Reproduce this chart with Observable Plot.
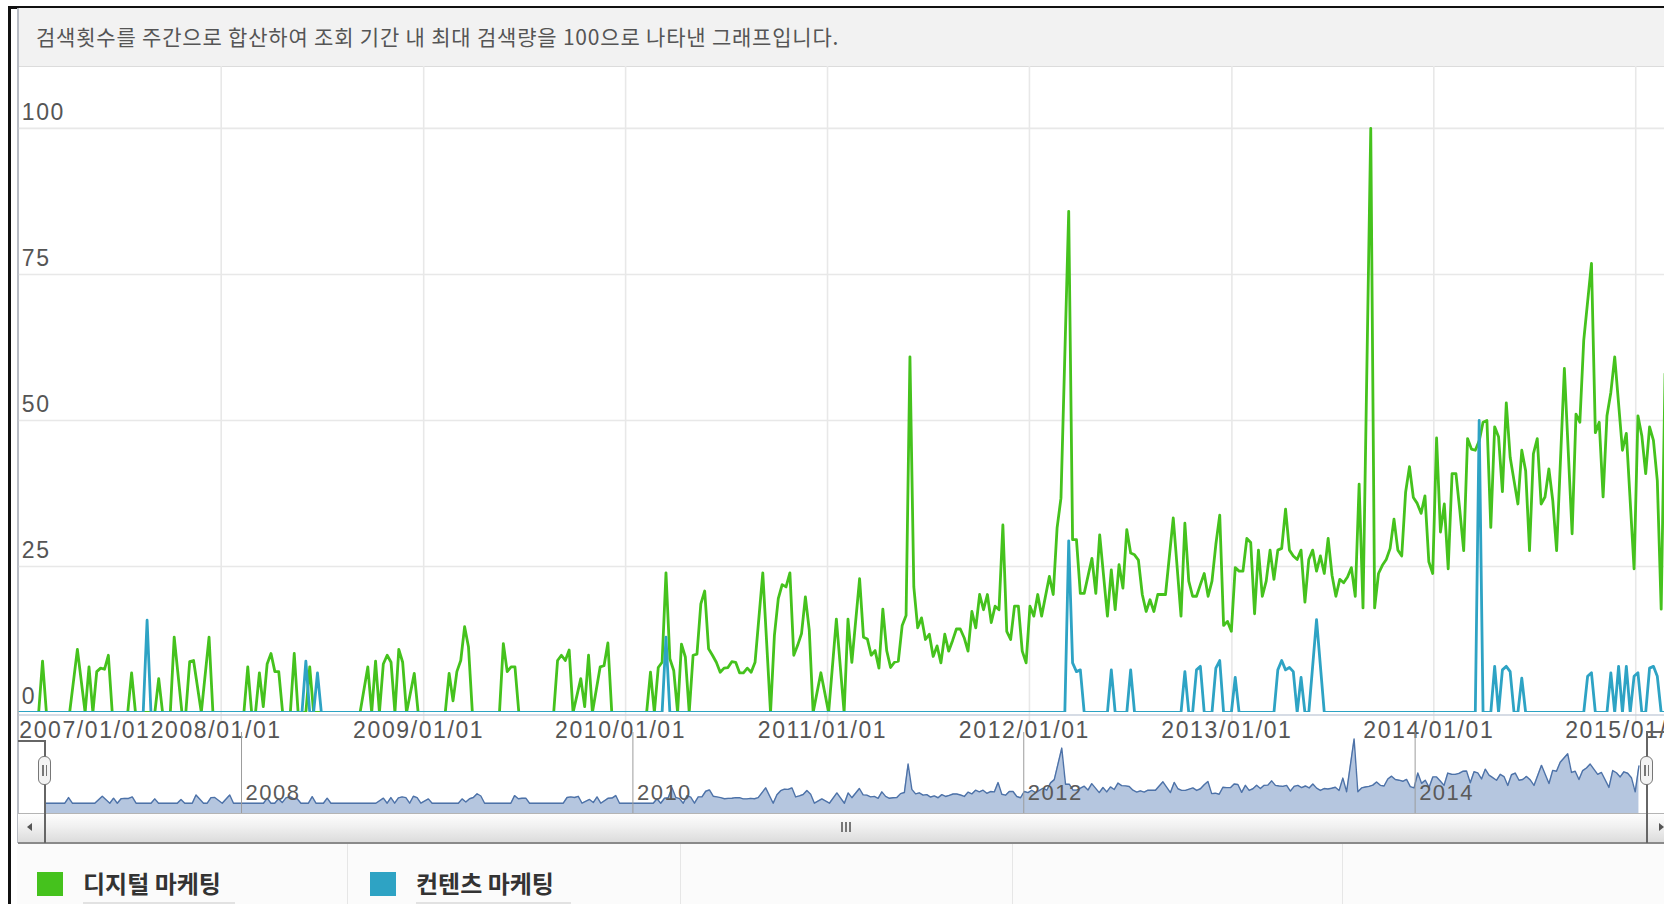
<!DOCTYPE html>
<html><head><meta charset="utf-8">
<script src="https://cdn.jsdelivr.net/npm/d3@7"></script>
<script src="https://cdn.jsdelivr.net/npm/@observablehq/plot@0.6"></script>
<style>
html,body{margin:0;padding:0;width:1664px;height:904px;overflow:hidden;background:#fff;}
.abs{position:absolute;}
#header{left:17px;top:8px;width:1647px;height:59px;background:#f2f2f2;border-bottom:1px solid #dcdcdc;
  font-family:"Noto Sans CJK KR","Noto Sans",sans-serif;font-size:21px;letter-spacing:0.8px;color:#555;line-height:56px;padding-left:19px;box-sizing:border-box;white-space:nowrap;}
#main{left:0;top:66px;}
#nav{left:0;top:730px;}
#scroll{left:18px;top:813px;width:1646px;height:28px;background:linear-gradient(to bottom,#fdfdfd 0%,#f0f0f0 45%,#dcdcdc 100%);border-top:1px solid #b4b4b4;border-bottom:2px solid #8a8a8a;}
#legend{left:17px;top:844px;width:1647px;height:60px;background:#fbfbfb;}
.sep{position:absolute;top:0;width:1px;height:60px;background:#e6e6e6;}
.sw{position:absolute;width:26px;height:24px;top:28px;}
.lt{position:absolute;top:22px;font-family:"Noto Sans CJK KR","Noto Sans",sans-serif;font-weight:bold;font-size:24px;color:#333;line-height:34px;white-space:nowrap;}
.ul{position:absolute;top:58px;height:2px;background:#e2e2e2;}
.handle{position:absolute;width:13px;height:29px;top:756px;border:1.5px solid #777;border-radius:6px;background:#f3f3f3;box-sizing:border-box;}
.handle::before,.handle::after{content:"";position:absolute;top:8px;width:1.5px;height:11px;background:#777;}
.handle::before{left:3px;} .handle::after{left:6.5px;}
svg.plot-svg{background:transparent;}
</style></head><body>
<div class="abs" style="left:8px;top:6px;width:3px;height:898px;background:#111"></div>
<div class="abs" style="left:8px;top:6px;width:1656px;height:2.5px;background:#111"></div>
<div id="header" class="abs"></div>
<div class="abs" style="left:16.5px;top:8px;width:2px;height:835px;background:#b8bcc4"></div>
<div id="main" class="abs"></div>
<div id="nav" class="abs"></div>
<div id="scroll" class="abs"></div>
<div class="abs" style="left:18px;top:814px;width:27px;height:28px;border-right:1px solid #a8a8a8;box-sizing:border-box"></div>
<div class="abs" style="left:27px;top:823px;width:0;height:0;border-top:4px solid transparent;border-bottom:4px solid transparent;border-right:5px solid #555"></div>
<div class="abs" style="left:841px;top:822px;width:1.5px;height:10px;background:#777"></div>
<div class="abs" style="left:845px;top:822px;width:1.5px;height:10px;background:#777"></div>
<div class="abs" style="left:849px;top:822px;width:1.5px;height:10px;background:#777"></div>
<div class="abs" style="left:1659px;top:823px;width:0;height:0;border-top:4px solid transparent;border-bottom:4px solid transparent;border-left:5px solid #555"></div>
<div class="abs" style="left:44px;top:740px;width:1.5px;height:103px;background:#666"></div>
<div class="abs" style="left:18px;top:740px;width:27px;height:1.5px;background:#666"></div>
<div class="abs" style="left:1646px;top:731px;width:1.5px;height:112px;background:#666"></div>
<div class="abs" style="left:1646px;top:731px;width:18px;height:1.5px;background:#666"></div>
<div class="handle" style="left:38px"></div>
<div class="handle" style="left:1640px"></div>
<div id="legend" class="abs"></div>
<script>
// ---- data ----
const headerText = "검색횟수를 주간으로 합산하여 조회 기간 내 최대 검색량을 100으로 나타낸 그래프입니다.";
const seriesNames = ["디지털 마케팅", "컨텐츠 마케팅"];
const seriesColors = ["#45c21d", "#2ea3c4"];
const startDay = "2007-01-01";          // week 0
const mainEndDay = "2015-02-22";        // right edge of the visible window
const navEndDay = "2015-03-11";         // right edge of the navigator
const yTicks = [0, 25, 50, 75, 100];
const xTickYears = [2007, 2008, 2009, 2010, 2011, 2012, 2013, 2014, 2015];
const navTickYears = [2008, 2010, 2012, 2014];
// [week since start, index value]
const digitalMarketing = [
[0,0],[5,0],[6,8.8],[7,0],[13,0],[15,10.8],[17,0],[18,7.8],[19,0],[20,7.0],[21,7.6],[22,7.4],[23,9.8],[24,0],[28,0],[29,6.8],[30,0],[35,0],[36,5.8],[37,0],[39,0],[40,12.9],[42,0],[43,0],[44,8.7],[45,8.9],[47,0],[49,12.9],[50,0],
[58,0],[59,7.8],[60,0],[61,0],[62,6.8],[63,1],[64,8.3],[65,10.1],[66,7.0],[67,7.0],[68,0],[70,0],[71,10.1],[72,0],[74,0],[75,7.8],[76,0],
[88,0],[90,7.8],[91,0],[92,8.8],[93,0],[94,8.3],[95,9.8],[96,8.6],[97,0],[98,10.8],[99,8.6],[100,0],[102,6.7],[103,0],
[110,0],[111,6.7],[112,2],[113,7.0],[114,8.9],[115,14.7],[116,11.2],[117,0],[124,0],[125,11.8],[126,7.0],[127,7.8],[128,7.8],[129,0],
[138,0],[139,8.9],[140,9.8],[141,8.9],[142,10.7],[143,0],[145,5.8],[146,1],[147,9.8],[148,0],[150,7.8],[151,8.0],[152,11.9],[153,0],
[162,0],[163,6.9],[164,0],[165,7.7],[166,8.6],[167,23.9],[168,9.2],[169,7.2],[170,0],[171,11.7],[172,9.5],[173,0],[174,9.8],[175,10.0],[176,18.6],[177,20.8],[178,10.9],[179,9.8],[180,8.6],[181,6.9],[182,7.6],[183,7.7],[184,8.7],[185,8.6],[186,6.8],[187,6.8],[188,7.6],[189,6.9],[190,8.6],[192,23.9],[194,0],[195,13.2],[196,19.5],[197,21.9],[198,21.5],[199,23.9],[200,9.8],[201,11.5],[202,13.5],[203,19.8],[204,14.1],[205,0],[207,6.8],[209,0],[211,16.0],[213,0],[214,16.0],[215,8.6],[217,22.9],[218,12.9],[219,12.6],[220,9.8],[221,10.6],[222,7.6],[223,17.7],[224,10.6],[225,7.7],[226,8.6],[227,8.8],[228,14.9],[229,16.6],[230,60.9],[231,21.5],
[232,14.5],[233,16.2],[234,12.5],[235,13.4],[236,9.6],[237,11.4],[238,8.5],[239,13.4],[240,10.5],[241,12.3],[242,14.3],[243,14.3],[244,12.8],[245,10.5],[246,17.3],[247,14.5],[248,20.2],[249,17.6],[250,20.2],[251,15.4],[252,18.2],[253,17.6],[254,32.1],[255,13.9],[256,12.5],[257,18.2],[258,18.2],[259,10.5],[260,8.5],[261,18.2],[262,16.5],[263,20.2],[264,16.5],[266,23.3],[267,20.2],[268,31.6],[269,36.7],[271,85.8],[272,29.6],[273,29.6],[274,20.4],[275,20.4],[277,26.4],[278,20.4],[279,30.4],[281,16.5],[282,24.4],[283,17.6],[284,25.3],[285,21.3],[286,31.3],[287,27.3],[288,27.0],[289,26.1],[290,20.2],[291,17.3],[292,19.3],[293,17.3],[294,20.2],[296,20.2],[298,33.3],[300,16.5],
[301,32.4],[302,22.5],[303,19.9],[304,19.9],[305,21.9],[306,23.8],[307,19.9],[308,22.5],[309,28.8],[310,33.8],[311,14.9],[312,15.6],[313,13.9],[314,24.8],[315,24.2],[316,24.2],[317,29.8],[318,29.1],[319,16.9],[320,27.8],[321,19.9],[322,22.5],[323,27.8],[324,22.8],[325,27.8],[326,28.1],[327,34.8],[328,27.8],[329,26.8],[330,26.2],[331,27.8],[332,18.9],[333,26.2],[334,27.8],[335,24.2],[336,26.8],[337,23.8],[338,29.8],[339,23.5],[340,19.9],[341,22.8],[342,22.2],[343,23.2],[344,24.8],[345,19.9],[346,39.1],[347,17.9],[349,100],[350,17.9],[351,23.8],[352,25.2],[353,26.2],[354,28.1],[355,33.1],[356,27.8],[357,26.8],[358,37.7],[359,42.1],[360,36.8],[361,35.8],[362,34.1],[363,37.1],[364,25.8],[365,23.8],
[366,47.0],[367,30.9],[368,35.7],[369,24.6],[370,40.9],[371,40.9],[372,34.6],[373,27.7],[374,46.9],[375,45.1],[376,44.9],[377,46.5],[378,49.7],[379,50.0],[380,31.7],[381,48.9],[382,47.2],[383,37.8],[384,53.0],[385,43.7],[386,39.7],[387,35.7],[388,44.9],[389,41.4],[390,27.7],[391,44.3],[392,46.9],[393,35.7],[394,36.9],[395,41.7],[396,36.3],[397,27.7],[399,58.9],[401,30.6],[402,51.1],[403,49.7],[404,63.7],[406,76.9],[407,47.9],[408,49.7],[409,36.9],[410,50.8],[411,54.8],[412,60.9],[414,44.9],[415,47.8],[417,24.6],[418,50.8],[419,47.4],[420,40.9],[421,48.9],[422,46.6],[423,39.7],[424,17.7],[425,58.0]
];
const contentMarketing = [
[0,0],[32,0],[33,15.8],[34,0],[73,0],[74,8.8],[75,0],[76,0],[77,6.8],[78,0],[166,0],[167,12.9],[168,0],
[270,0],[271,29.4],[272,8.5],[273,7.0],[274,7.3],[275,0],[281,0],[282,7.3],[283,0],[286,0],[287,7.3],[288,0],
[300,0],[301,7.0],[302,0],[303,0],[304,7.3],[305,7.9],[306,0],[308,0],[309,7.6],[310,8.9],[311,0],[313,0],[314,6.0],[315,0],
[324,0],[325,7.3],[326,8.9],[327,7.3],[328,7.7],[329,7.0],[330,0],[331,6.0],[332,0],[333,0],[335,15.9],[337,0],
[376,0],[377,50.0],[378,0],[380,0],[381,7.9],[382,0],[383,7.3],[384,7.9],[385,7.0],[386,0],[387,0],[388,5.9],[389,0],
[404,0],[405,6.2],[406,6.8],[407,0],[410,0],[411,6.8],[412,0],[413,7.9],[414,0],[415,7.9],[416,0],[417,6.2],[418,6.8],[419,0],[420,0],[421,7.6],[422,7.9],[423,6.2],[424,0],[425,0]
];

// ---- build ----
const day = s => new Date(s + "T00:00:00Z");
const start = day(startDay);
const weekMs = 7 * 864e5;
const toRows = (arr, name) => arr.map(([w, v]) => ({date: new Date(+start + w * weekMs), value: v, series: name}));
const digitalRows = toRows(digitalMarketing, seriesNames[0]);
const contentRows = toRows(contentMarketing, seriesNames[1]);
const yearDate = y => new Date(Date.UTC(y, 0, 1));
const fmt = d3.utcFormat("%Y/%m/%d");
const axisFont = '"Liberation Sans", Arial, sans-serif';

document.getElementById("header").textContent = headerText;

const main = Plot.plot({
  width: 1664, height: 680,
  marginLeft: 18.8, marginRight: 0, marginTop: 0, marginBottom: 34,
  x: {type: "utc", domain: [start, day(mainEndDay)], axis: null},
  y: {domain: [0, 110.6], axis: null},
  style: {background: "transparent", fontFamily: axisFont, letterSpacing: "1.6px", overflow: "hidden"},
  marks: [
    Plot.ruleY(yTicks.filter(d => d > 0), {stroke: "#e8e8e8", strokeWidth: 1.6}),
    Plot.ruleX(xTickYears.slice(1).map(yearDate), {stroke: "#e8e8e8", strokeWidth: 1.6, insetBottom: -10}),
    Plot.ruleY([0], {stroke: "#c8d1dc", strokeWidth: 1.5, dy: 2.5}),
    Plot.line(digitalRows, {x: "date", y: "value", stroke: seriesColors[0], strokeWidth: 2.8, clip: true}),
    Plot.line(contentRows, {x: "date", y: "value", stroke: seriesColors[1], strokeWidth: 2.8, clip: true}),
    Plot.text(yTicks, {x: () => start, y: d => d, text: d => String(d), textAnchor: "start", dx: 2.5, dy: -16, fontSize: 23, fill: "#555"}),
    Plot.text(xTickYears.slice(0, 1).map(yearDate), {x: d => d, y: () => 0, text: d => fmt(d), textAnchor: "start", dy: 18, fontSize: 23, fill: "#555"}),
    Plot.text(xTickYears.slice(1).map(yearDate), {x: d => d, y: () => 0, text: d => fmt(d), textAnchor: "middle", dx: -5, dy: 18, fontSize: 23, fill: "#555"})
  ]
});
document.getElementById("main").appendChild(main);

const navFloor = -16;
const nav = Plot.plot({
  width: 1664, height: 83,
  marginLeft: 45.6, marginRight: 17, marginTop: 2, marginBottom: 0,
  x: {type: "utc", domain: [start, day(navEndDay)], axis: null},
  y: {domain: [navFloor, 110], axis: null},
  style: {background: "transparent", fontFamily: axisFont, letterSpacing: "1.5px"},
  marks: [
    Plot.areaY(digitalRows, {x: "date", y1: () => navFloor, y2: "value", fill: "#b5c6df"}),
    Plot.line(digitalRows, {x: "date", y: "value", stroke: "#4d72a8", strokeWidth: 1.4}),
    Plot.ruleX(navTickYears.map(yearDate), {stroke: "#9c9c9c", strokeWidth: 1}),
    Plot.text(navTickYears.map(yearDate), {x: d => d, text: d => String(d.getUTCFullYear()), frameAnchor: "bottom", textAnchor: "start", dx: 4, dy: -14, fontSize: 22, fill: "#5a5a5a"})
  ]
});
document.getElementById("nav").appendChild(nav);

// legend
const lg = document.getElementById("legend");
[330, 663, 995, 1325].forEach(x => { const s = document.createElement("div"); s.className = "sep"; s.style.left = x + "px"; lg.appendChild(s); });
const legendX = [20, 353];
seriesNames.forEach((n, i) => {
  const sw = document.createElement("div"); sw.className = "sw"; sw.style.left = legendX[i] + "px"; sw.style.background = seriesColors[i]; lg.appendChild(sw);
  const t = document.createElement("div"); t.className = "lt"; t.style.left = (legendX[i] + 46) + "px"; t.textContent = n; lg.appendChild(t);
  const u = document.createElement("div"); u.className = "ul"; u.style.left = (legendX[i] + 46) + "px"; u.style.width = (i === 0 ? 152 : 155) + "px"; lg.appendChild(u);
});
</script>
</body></html>
